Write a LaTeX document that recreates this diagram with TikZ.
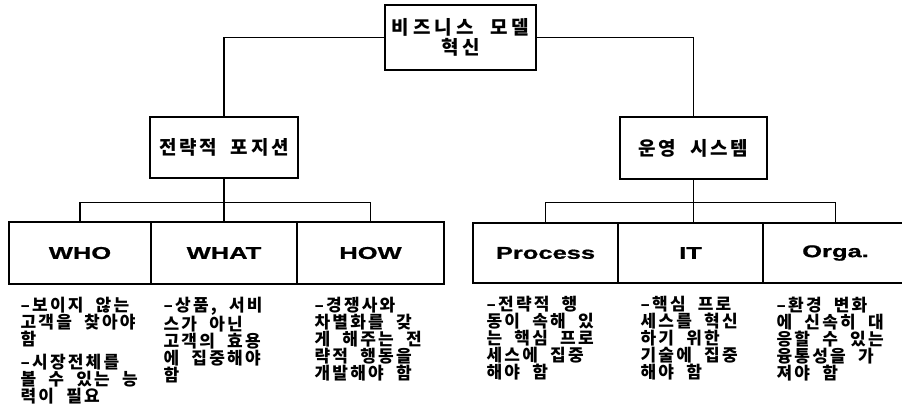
\documentclass[tikz,border=0pt]{standalone}
\usepackage{fontspec}
\newfontfamily\kr{Noto Sans CJK KR}[LetterSpace=13,WordSpace=2]
\newfontfamily\krt{Noto Sans CJK KR}[LetterSpace=14,WordSpace=2]
\newfontfamily\krtop{Noto Sans CJK KR}[LetterSpace=21,WordSpace=2]
\newfontfamily\hdr{Liberation Sans}[FakeStretch=1.5,FakeBold=1]
\begin{document}
\begin{tikzpicture}[x=1pt,y=-1pt,
  line width=1.3pt,
  box/.style={draw,line width=1.3pt,inner sep=0pt,minimum height=62pt,align=center},
  ttl/.style={font=\krt\bfseries\fontsize{19}{21}\selectfont},
  hdrbox/.style={box,minimum height=62pt,font=\hdr\bfseries\fontsize{17}{20}\selectfont},
  note/.style={anchor=north west,inner sep=0pt,align=left,font=\kr\bfseries\fontsize{17}{17}\selectfont}]
\useasboundingbox (0,0) rectangle (902,405);
\clip (0,0) rectangle (902,405);
% top
\node[box,font=\krtop\bfseries\fontsize{19}{20}\selectfont,minimum width=151pt,minimum height=65pt] (top) at (460.5,37.5) {비즈니스 모델\\혁신};
% second level
\node[box,ttl,minimum width=148pt,minimum height=61pt] (strat) at (224,147.5) {전략적 포지션};
\node[box,ttl,minimum width=147pt,minimum height=62pt] (ops) at (693.5,148) {운영 시스템};
% bottom boxes
\node[hdrbox,minimum width=142pt] (who) at (80,253) {\raisebox{-3pt}{WHO}};
\node[hdrbox,minimum width=146pt] (what) at (224,253) {\raisebox{-3pt}{WHAT}};
\node[hdrbox,minimum width=147pt] (how) at (370.5,253) {\raisebox{-3pt}{HOW}};
\node[hdrbox,minimum width=145pt,minimum height=60pt] (proc) at (545.5,253) {\raisebox{-2pt}{Process}};
\node[hdrbox,minimum width=145pt,minimum height=60pt] (it) at (690.5,253) {\raisebox{-2pt}{IT}};
\node[hdrbox,minimum width=145pt,minimum height=60pt] (orga) at (835.5,253) {\raisebox{-2pt}{Orga.}};
% connectors
\draw (top.west) -| (strat.north);
\draw (top.east) -| (ops.north);
\draw (strat.south) -- (what.north);
\draw (who.north) -- ++(0,-19) -| (how.north);
\draw (ops.south) -- (ops.south |- it.north);
\draw (proc.north) -- ++(0,-20) -| (orga.north);
% notes
\node[note] (nwho) at (20,296) {–보이지 않는\\고객을 찾아야\\함\\[6pt]–시장전체를\\볼 수 있는 능\\력이 필요};
\node[note] (nwhat) at (163,296) {–상품, 서비\\스가 아닌\\고객의 효용\\에 집중해야\\함};
\node[note] (nhow) at (314,296) {–경쟁사와\\차별화를 갖\\게 해주는 전\\략적 행동을\\개발해야 함};
\node[note] (nproc) at (486,296) {–전략적 행\\동이 속해 있\\는 핵심 프로\\세스에 집중\\해야 함};
\node[note] (nit) at (640,296) {–핵심 프로\\세스를 혁신\\하기 위한\\기술에 집중\\해야 함};
\node[note] (norga) at (776,296) {–환경 변화\\에 신속히 대\\응할 수 있는\\융통성을 가\\져야 함};
\end{tikzpicture}
\end{document}
